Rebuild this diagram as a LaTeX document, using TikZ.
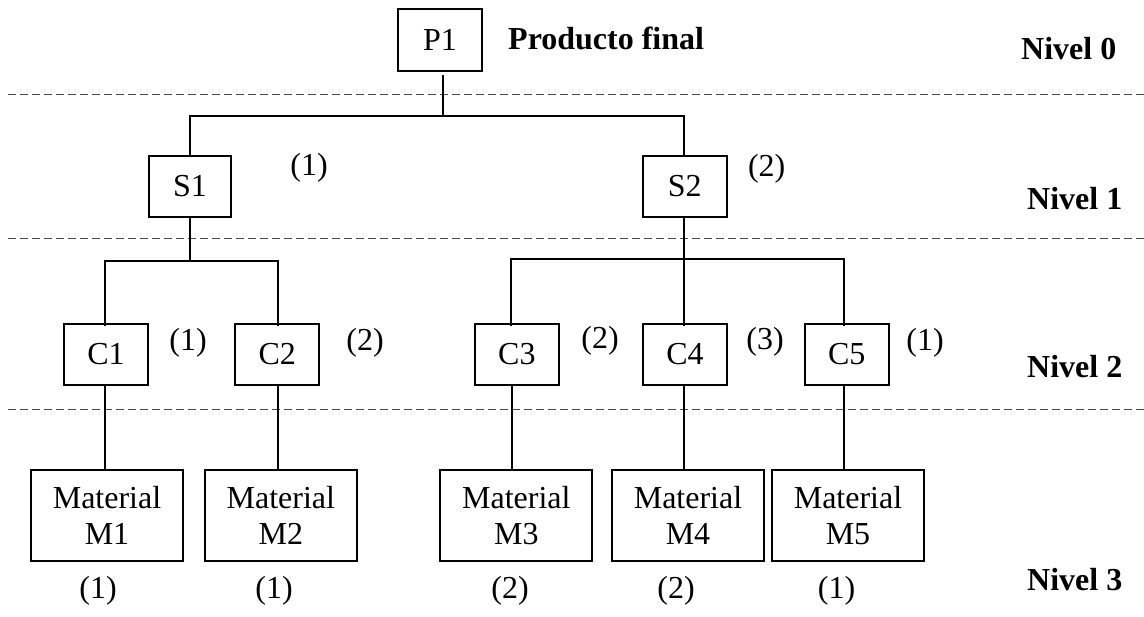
\documentclass[tikz,border=0pt]{standalone}
\usepackage{fontspec}
\setmainfont{Liberation Serif}
\definecolor{dashgray}{HTML}{4A4A4A}
\begin{document}
\begin{tikzpicture}[x=1pt,y=-1pt,
  every node/.style={font=\fontsize{32}{36}\selectfont},
  box/.style={draw=black,line width=1.8pt,inner sep=0pt,minimum width=84pt,minimum height=61pt},
  matbox/.style={draw=black,line width=1.8pt,inner sep=0pt,minimum width=152pt,minimum height=91pt,align=center},
  conn/.style={draw=black,line width=1.9pt},
  level/.style={draw=dashgray,line width=1.6pt,dash pattern=on 8pt off 4pt},
  qty/.style={inner sep=0pt},
  nivel/.style={inner sep=0pt,anchor=base west,font=\fontsize{32}{36}\selectfont\bfseries}]
\useasboundingbox (0,0) rectangle (1144,617);

% level separators
\coordinate (d1a) at (8,94.5);  \coordinate (d1b) at (1144,94.5);
\coordinate (d2a) at (8,238.5); \coordinate (d2b) at (1144,238.5);
\coordinate (d3a) at (8,409.5); \coordinate (d3b) at (1144,409.5);
\draw[level] (d1a) -- (d1b);
\draw[level] (d2a) -- (d2b);
\draw[level] (d3a) -- (d3b);

% nodes
\node[box,minimum height=62pt] (P1) at (440,40) {P1};
\node[inner sep=0pt,anchor=base west,font=\fontsize{32}{36}\selectfont\bfseries] (pf) at (508,50) {Producto final};

\node[box,minimum width=82pt] (S1) at (190,186.2) {S1};
\node[box] (S2) at (684.7,186.2) {S2};

\node[box] (C1) at (106,354.3) {C1};
\node[box] (C2) at (277.2,354.3) {C2};
\node[box] (C3) at (516.9,354.3) {C3};
\node[box] (C4) at (685,354.3) {C4};
\node[box] (C5) at (846.7,354.3) {C5};

\node[matbox] (M1) at (107,515.3) {Material\\M1};
\node[matbox] (M2) at (280.8,515.3) {Material\\M2};
\node[matbox] (M3) at (516.3,515.3) {Material\\M3};
\node[matbox] (M4) at (688,515.3) {Material\\M4};
\node[matbox] (M5) at (848,515.3) {Material\\M5};

% quantities
\node[qty] (qS1) at (309,168) {(1)};
\node[qty] (qS2) at (766.7,169) {(2)};
\node[qty] (qC1) at (188,343) {(1)};
\node[qty] (qC2) at (365,343) {(2)};
\node[qty] (qC3) at (600,341) {(2)};
\node[qty] (qC4) at (765,342) {(3)};
\node[qty] (qC5) at (925,343) {(1)};
\node[qty] (qM1) at (98,591) {(1)};
\node[qty] (qM2) at (274,591) {(1)};
\node[qty] (qM3) at (510,591) {(2)};
\node[qty] (qM4) at (676,591) {(2)};
\node[qty] (qM5) at (836.5,591) {(1)};

% level labels
\node[nivel] (n0) at (1021,60) {Nivel 0};
\node[nivel] (n1) at (1027,210) {Nivel 1};
\node[nivel] (n2) at (1027,378) {Nivel 2};
\node[nivel] (n3) at (1027,590) {Nivel 3};

% junctions
\coordinate (j0) at (443,116);
\coordinate (jS1) at (190,116);
\coordinate (jS2) at (684,116);
\coordinate (k1) at (190,261);
\coordinate (k1a) at (105,261);
\coordinate (k1b) at (278,261);
\coordinate (k2) at (684,259);
\coordinate (k2a) at (511,259);
\coordinate (k2c) at (844,259);
\coordinate (b3) at (512,400);

% connectors
\draw[conn] ([yshift=-3.5pt]P1.south -| j0) -- (j0);
\draw[conn] (S1.north -| jS1) -- (jS1) -- (jS2) -- (S2.north -| jS2);

\draw[conn] (S1.south -| k1) -- (k1);
\draw[conn] ([yshift=-3pt]C1.north -| k1a) -- (k1a) -- (k1b) -- ([yshift=-3pt]C2.north -| k1b);

\draw[conn] (S2.south -| k2) -- ([yshift=-3pt]C4.north -| k2);
\draw[conn] ([yshift=-3pt]C3.north -| k2a) -- (k2a) -- (k2c) -- ([yshift=-3pt]C5.north -| k2c);

\draw[conn] (C1.south -| k1a) -- (M1.north -| k1a);
\draw[conn] (C2.south -| k1b) -- (M2.north -| k1b);
\draw[conn] (C3.south -| b3) -- (M3.north -| b3);
\draw[conn] (C4.south -| k2) -- (M4.north -| k2);
\draw[conn] (C5.south -| k2c) -- (M5.north -| k2c);
\end{tikzpicture}
\end{document}
